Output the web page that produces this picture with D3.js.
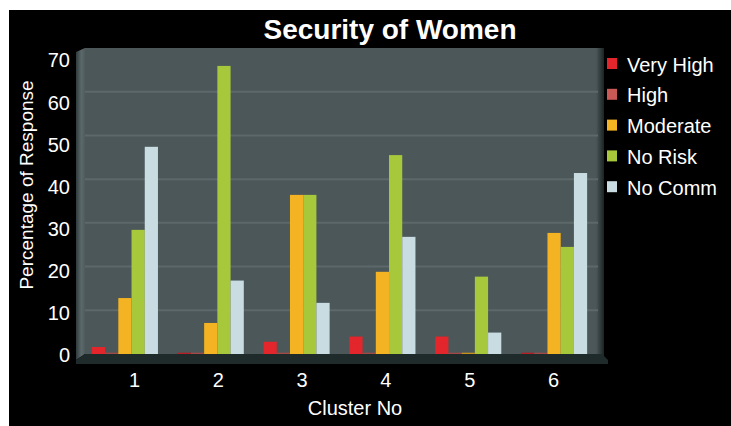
<!DOCTYPE html>
<html>
<head>
<meta charset="utf-8">
<script src="https://cdn.jsdelivr.net/npm/d3@7"></script>
<style>
  html, body { margin: 0; padding: 0; background: #ffffff; }
  svg { display: block; }
  text { font-family: "Liberation Sans", Arial, sans-serif; fill: #ffffff; }
</style>
</head>
<body>
<svg id="chart" width="731" height="426"></svg>
<script>
// Survey responses per cluster (percentage of respondents)
const clusters = ["1", "2", "3", "4", "5", "6"];
const seriesNames = ["Very High", "High", "Moderate", "No Risk", "No Comm"];
const veryHigh = [1.6, 0.3, 2.8, 4, 4, 0.3];
const high     = [0.3, 0.3, 0.3, 0.3, 0.3, 0.3];
const moderate = [12.8, 7.1, 36.4, 18.8, 0.3, 27.7];
const noRisk   = [28.4, 65.9, 36.4, 45.5, 17.7, 24.5];
const noComm   = [47.4, 16.8, 11.7, 26.8, 4.9, 41.4];
const yTicks = [0, 10, 20, 30, 40, 50, 60, 70];
const seriesColors = ["#e2262b", "#c95a55", "#f4b322", "#a8c83b", "#c8dce2"];

const seriesValues = [veryHigh, high, moderate, noRisk, noComm];

const svg = d3.select("#chart");
const W = 731, H = 426;

// page frame: black panel with a thin white margin top/left
svg.append("rect").attr("x", 9).attr("y", 10).attr("width", W - 9).attr("height", H - 10).attr("fill", "#000000");

const plot = { left: 85, right: 602, top: 48, bottom: 354 };

// scales: bars sit on the back wall, tick labels on the front plane
const y = d3.scaleLinear().domain([0, 70]).range([plot.bottom, plot.top]);
const yLabel = d3.scaleLinear().domain([0, 70]).range([355.5, 60.5]);
const x0 = d3.scaleBand().domain(clusters).range([82, 597]).paddingInner(0.23).paddingOuter(0.115);
const x1 = d3.scaleBand().domain(seriesNames).range([0, x0.bandwidth()]);
const xLabel = d3.scalePoint().domain(clusters).range([134, 553]);

const defs = svg.append("defs");
const wallGrad = defs.append("linearGradient").attr("id", "wall").attr("x1", 0).attr("x2", 1);
wallGrad.append("stop").attr("offset", 0).attr("stop-color", "#2f3a3c");
wallGrad.append("stop").attr("offset", 0.6).attr("stop-color", "#5c696a");
wallGrad.append("stop").attr("offset", 1).attr("stop-color", "#4f5b5d");
const rightGrad = defs.append("linearGradient").attr("id", "rightEdge").attr("x1", 0).attr("x2", 1);
rightGrad.append("stop").attr("offset", 0).attr("stop-color", "#4b5759");
rightGrad.append("stop").attr("offset", 1).attr("stop-color", "#1b2425");

// back wall
svg.append("rect")
  .attr("x", plot.left).attr("y", plot.top)
  .attr("width", plot.right - plot.left).attr("height", plot.bottom - plot.top)
  .attr("fill", "#4b5759");
svg.append("rect")
  .attr("x", plot.right - 6).attr("y", plot.top)
  .attr("width", 8).attr("height", plot.bottom - plot.top + 8)
  .attr("fill", "url(#rightEdge)");

// left wall
svg.append("path")
  .attr("d", `M76,${plot.top + 4} L${plot.left},${plot.top} L${plot.left},${plot.bottom} L76,${plot.bottom + 6} Z`)
  .attr("fill", "url(#wall)");

// gridlines
svg.append("g").selectAll("line")
  .data(yTicks.filter(d => d > 0 && d < 70))
  .join("line")
  .attr("x1", plot.left).attr("x2", plot.right - 4)
  .attr("y1", d => y(d)).attr("y2", d => y(d))
  .attr("stroke", "#5c6869").attr("stroke-width", 2);

// floor
svg.append("path")
  .attr("d", `M76,${plot.bottom + 6} L${plot.left},${plot.bottom} L${plot.right},${plot.bottom} L${plot.right + 6},${plot.bottom + 6} L${plot.right + 6},${plot.bottom + 10} L76,${plot.bottom + 10} Z`)
  .attr("fill", "#1f2a2b");

// bars
const groups = svg.append("g").selectAll("g")
  .data(clusters)
  .join("g")
  .attr("transform", d => `translate(${x0(d)},0)`);

groups.selectAll("rect")
  .data((c, ci) => seriesNames.map((s, si) => ({ s, si, v: seriesValues[si][ci] })))
  .join("rect")
  .attr("x", d => x1(d.s))
  .attr("width", x1.bandwidth())
  .attr("y", d => y(d.v))
  .attr("height", d => y(0) - y(d.v))
  .attr("fill", d => d.si === 1 || d.v < 1 ? d3.color(seriesColors[d.si]).darker(0.6) : seriesColors[d.si]);

// y axis labels
const yAxis = svg.append("g")
  .attr("transform", "translate(72,0)")
  .call(d3.axisLeft(yLabel).tickValues(yTicks).tickSize(0).tickPadding(2));
yAxis.select(".domain").remove();
yAxis.selectAll("text")
  .attr("fill", "#ffffff")
  .style("font-family", "'Liberation Sans', Arial, sans-serif")
  .style("font-size", "20px");

// x axis labels
const xAxis = svg.append("g")
  .attr("transform", "translate(0,373)")
  .call(d3.axisBottom(xLabel).tickSize(0).tickPadding(0));
xAxis.select(".domain").remove();
xAxis.selectAll("text")
  .attr("fill", "#ffffff")
  .style("font-family", "'Liberation Sans', Arial, sans-serif")
  .style("font-size", "20px");

// titles
svg.append("text")
  .attr("x", 390).attr("y", 39)
  .attr("text-anchor", "middle")
  .style("font-size", "28px").style("font-weight", "bold")
  .text("Security of Women");

svg.append("text")
  .attr("x", 355).attr("y", 415)
  .attr("text-anchor", "middle")
  .style("font-size", "20px")
  .text("Cluster No");

svg.append("text")
  .attr("transform", "translate(33,185) rotate(-90)")
  .attr("text-anchor", "middle")
  .style("font-size", "19px")
  .text("Percentage of Response");

// legend
const legend = svg.append("g").selectAll("g")
  .data(seriesNames)
  .join("g")
  .attr("transform", (d, i) => `translate(607,${64 + i * 30.8})`);
legend.append("rect")
  .attr("x", 0).attr("y", -6).attr("width", 10).attr("height", 11)
  .attr("fill", (d, i) => seriesColors[i]);
legend.append("text")
  .attr("x", 20).attr("y", 0).attr("dy", "0.38em")
  .style("font-size", "20px")
  .text(d => d);
</script>
</body>
</html>
